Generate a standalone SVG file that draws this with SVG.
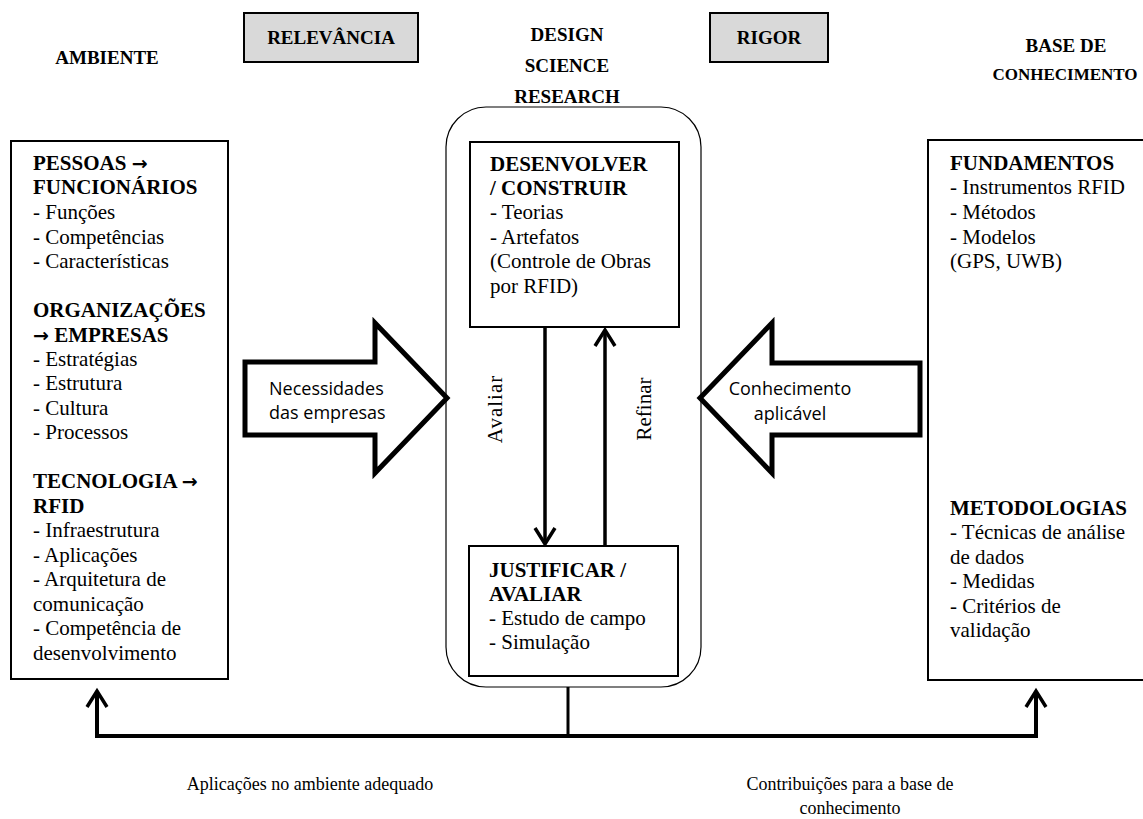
<svg xmlns="http://www.w3.org/2000/svg" width="1143" height="819" viewBox="0 0 1143 819">
<style>
.hd{font-family:"Liberation Serif","Times New Roman",serif;font-size:19px;font-weight:bold;fill:#000}
.b{font-family:"Liberation Serif","Times New Roman",serif;font-size:21px;font-weight:bold;fill:#000}
.t{font-family:"Liberation Serif","Times New Roman",serif;font-size:21px;fill:#000}
.ar{font-family:"DejaVu Sans",sans-serif;font-weight:bold;font-size:19px}
.lab{font-family:"Liberation Serif","Times New Roman",serif;font-size:18px;fill:#000}
.sans{font-family:"Open Sans","Noto Sans",sans-serif;font-size:18px;fill:#000}
.box{fill:#fff;stroke:#000;stroke-width:2}
.tag{fill:#d9d9d9;stroke:#000;stroke-width:2}
.blk{fill:#fff;stroke:#000;stroke-width:5;stroke-linejoin:miter}
.ln{fill:none;stroke:#000;stroke-width:3.5}
</style>
<defs>
<marker id="chev" markerUnits="userSpaceOnUse" viewBox="-20 -14 24 28" refX="0" refY="0" markerWidth="24" markerHeight="28" orient="auto" overflow="visible">
<path d="M-16,-10 L0,0 L-16,10" fill="none" stroke="#000" stroke-width="3.5"/>
</marker>
</defs>

<g id="header-ambiente"><text class="hd" x="107" y="64" text-anchor="middle">AMBIENTE</text></g>
<g id="header-relevancia"><rect class="tag" x="244" y="13" width="174" height="49"/><text class="hd" x="331" y="44" text-anchor="middle">RELEVÂNCIA</text></g>
<g id="header-dsr"><text class="hd" x="567" y="41" text-anchor="middle">DESIGN</text><text class="hd" x="567" y="72" text-anchor="middle">SCIENCE</text><text class="hd" x="567" y="103" text-anchor="middle">RESEARCH</text></g>
<g id="header-rigor"><rect class="tag" x="710" y="13" width="118" height="49"/><text class="hd" x="769" y="44" text-anchor="middle">RIGOR</text></g>
<g id="header-base"><text class="hd" x="1066" y="52" text-anchor="middle">BASE DE</text><text class="hd" x="1065" y="80" text-anchor="middle" style="font-size:17px">CONHECIMENTO</text></g>

<g id="ambiente">
<rect class="box" x="11" y="141" width="217" height="538"/>
<text class="b" x="33" y="170">PESSOAS <tspan class="ar">→</tspan></text>
<text class="b" x="33" y="194">FUNCIONÁRIOS</text>
<text class="t" x="33" y="219">- Funções</text>
<text class="t" x="33" y="244">- Competências</text>
<text class="t" x="33" y="268">- Características</text>
<text class="b" x="33" y="317">ORGANIZAÇÕES</text>
<text class="b" x="33" y="342"><tspan class="ar">→</tspan> EMPRESAS</text>
<text class="t" x="33" y="366">- Estratégias</text>
<text class="t" x="33" y="390">- Estrutura</text>
<text class="t" x="33" y="415">- Cultura</text>
<text class="t" x="33" y="439">- Processos</text>
<text class="b" x="33" y="488">TECNOLOGIA <tspan class="ar">→</tspan></text>
<text class="b" x="33" y="513">RFID</text>
<text class="t" x="33" y="537">- Infraestrutura</text>
<text class="t" x="33" y="562">- Aplicações</text>
<text class="t" x="33" y="586">- Arquitetura de</text>
<text class="t" x="33" y="611">comunicação</text>
<text class="t" x="33" y="635">- Competência de</text>
<text class="t" x="33" y="660">desenvolvimento</text>
</g>

<g id="dsr-container"><rect x="446" y="107" width="255" height="580" rx="40" ry="40" fill="none" stroke="#000" stroke-width="1.2"/></g>

<g id="desenvolver">
<rect class="box" x="470" y="142" width="209" height="185"/>
<text class="b" x="490" y="171">DESENVOLVER</text>
<text class="b" x="490" y="195">/ CONSTRUIR</text>
<text class="t" x="490" y="219">- Teorias</text>
<text class="t" x="490" y="244">- Artefatos</text>
<text class="t" x="490" y="268">(Controle de Obras</text>
<text class="t" x="490" y="293">por RFID)</text>
</g>

<g id="justificar">
<rect class="box" x="469" y="546" width="209" height="130"/>
<text class="b" x="489" y="577">JUSTIFICAR /</text>
<text class="b" x="489" y="601">AVALIAR</text>
<text class="t" x="489" y="625">- Estudo de campo</text>
<text class="t" x="489" y="649">- Simulação</text>
</g>

<g id="base">
<rect class="box" x="928" y="140" width="225" height="540"/>
<text class="b" x="950" y="170">FUNDAMENTOS</text>
<text class="t" x="950" y="194">- Instrumentos RFID</text>
<text class="t" x="950" y="219">- Métodos</text>
<text class="t" x="950" y="244">- Modelos</text>
<text class="t" x="950" y="268">(GPS, UWB)</text>
<text class="b" x="950" y="515">METODOLOGIAS</text>
<text class="t" x="950" y="539">- Técnicas de análise</text>
<text class="t" x="950" y="564">de dados</text>
<text class="t" x="950" y="588">- Medidas</text>
<text class="t" x="950" y="613">- Critérios de</text>
<text class="t" x="950" y="637">validação</text>
</g>

<g id="arrow-necessidades">
<polygon class="blk" points="245,362 375,362 375,323 447,398 375,473 375,435 245,435"/>
<text class="sans" x="269" y="395">Necessidades</text>
<text class="sans" x="269" y="419">das empresas</text>
</g>
<g id="arrow-conhecimento">
<polygon class="blk" points="920,363 772,363 772,323 700,398 772,473 772,435 920,435"/>
<text class="sans" x="790" y="395" text-anchor="middle">Conhecimento</text>
<text class="sans" x="790" y="420" text-anchor="middle">aplicável</text>
</g>

<g id="connectors">
<path class="ln" d="M545,327 L545,544" marker-end="url(#chev)"/>
<path class="ln" d="M605,546 L605,330" marker-end="url(#chev)"/>
<text class="t" transform="translate(495,409) rotate(-90)" text-anchor="middle" dy="0.35em" letter-spacing="1">Avaliar</text>
<text class="t" transform="translate(644,409) rotate(-90)" text-anchor="middle" dy="0.35em">Refinar</text>
<path d="M568,687 L568,736" fill="none" stroke="#000" stroke-width="3"/>
<path d="M568,736 L97,736 L97,691" fill="none" stroke="#000" stroke-width="4" marker-end="url(#chev)"/>
<path d="M568,736 L1036,736 L1036,691" fill="none" stroke="#000" stroke-width="4" marker-end="url(#chev)"/>
<text class="lab" x="310" y="790" text-anchor="middle">Aplicações no ambiente adequado</text>
<text class="lab" x="850" y="790" text-anchor="middle">Contribuições para a base de</text>
<text class="lab" x="850" y="814" text-anchor="middle">conhecimento</text>
</g>
</svg>
